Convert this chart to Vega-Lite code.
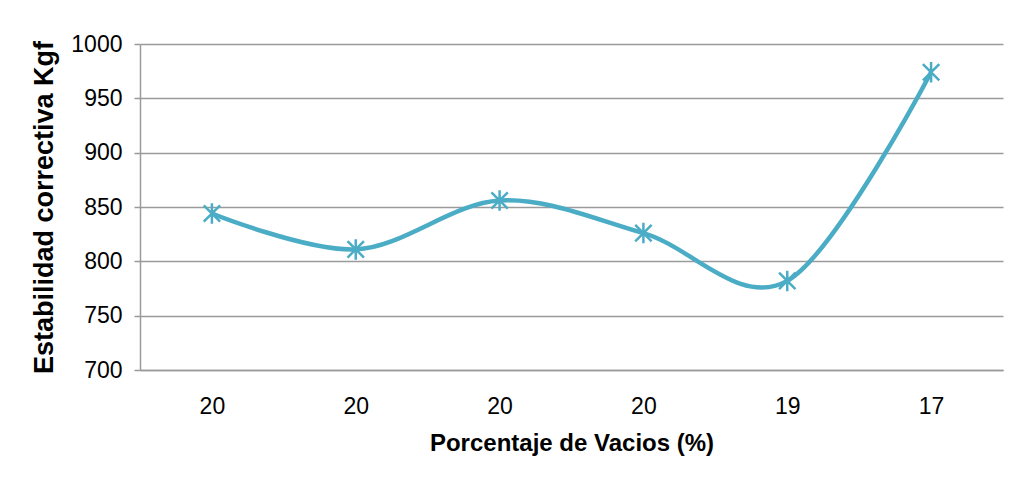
{
  "$schema": "https://vega.github.io/schema/vega-lite/v6.json",
  "width": 863,
  "height": 326,
  "autosize": "none",
  "padding": {"left": 140, "top": 44, "right": 16, "bottom": 125},
  "background": "white",
  "data": {"values": [
    {"i": 1, "vacios": "20", "estabilidad": 844},
    {"i": 2, "vacios": "20", "estabilidad": 811},
    {"i": 3, "vacios": "20", "estabilidad": 856},
    {"i": 4, "vacios": "20", "estabilidad": 826},
    {"i": 5, "vacios": "19", "estabilidad": 782},
    {"i": 6, "vacios": "17", "estabilidad": 974}
  ]},
  "encoding": {
    "x": {
      "field": "i", "type": "ordinal",
      "scale": {"type": "point", "padding": 0.5},
      "axis": {
        "title": "Porcentaje de Vacios  (%)",
        "labelExpr": "['20','20','20','20','19','17'][datum.value - 1]",
        "labelAngle": 0,
        "labelFont": "Liberation Sans", "labelFontSize": 23, "labelColor": "#000000",
        "labelPadding": 25,
        "titleFont": "Liberation Sans", "titleFontSize": 24, "titleFontWeight": "bold", "titleColor": "#000000",
        "titlePadding": 13,
        "domainColor": "#9a9a9a", "domainWidth": 1.5,
        "ticks": false, "grid": false
      }
    },
    "y": {
      "field": "estabilidad", "type": "quantitative",
      "scale": {"domain": [700, 1000], "nice": false, "zero": false},
      "axis": {
        "title": "Estabilidad correctiva Kgf",
        "values": [700, 750, 800, 850, 900, 950, 1000],
        "format": "d",
        "labelFont": "Liberation Sans", "labelFontSize": 23, "labelColor": "#000000",
        "labelPadding": 12,
        "tickSize": 6, "tickColor": "#9a9a9a", "tickWidth": 1.5,
        "domainColor": "#9a9a9a", "domainWidth": 1.5,
        "gridColor": "#9a9a9a", "gridWidth": 1.5,
        "titleFont": "Liberation Sans", "titleFontSize": 27, "titleFontWeight": "bold", "titleColor": "#000000",
        "titlePadding": 12
      }
    }
  },
  "layer": [
    {"mark": {"type": "line", "interpolate": "cardinal", "tension": 0, "color": "#4BACC6", "strokeWidth": 4.5}},
    {"mark": {"type": "point", "shape": "M0,-1L0,1M-0.8,-0.8L0.8,0.8M-0.8,0.8L0.8,-0.8", "filled": false, "color": "#4BACC6", "strokeWidth": 2.5, "size": 420, "opacity": 1}}
  ],
  "config": {"view": {"stroke": null}}
}
